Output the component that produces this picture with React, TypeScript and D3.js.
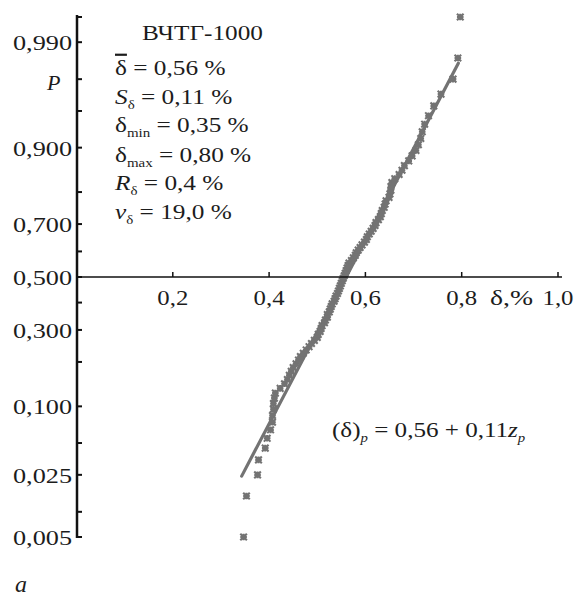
import React from "react";
import * as d3 from "d3";

// Sorted sample values δ, % (n = 100)
const deltaValues = [
  0.347, 0.353, 0.376, 0.378, 0.392, 0.396, 0.403, 0.407, 0.407, 0.409,
  0.409, 0.411, 0.413, 0.423, 0.432, 0.438, 0.442, 0.446, 0.45, 0.456,
  0.461, 0.465, 0.471, 0.477, 0.483, 0.488, 0.494, 0.5, 0.502, 0.506,
  0.508, 0.51, 0.515, 0.517, 0.521, 0.521, 0.525, 0.527, 0.529, 0.531,
  0.535, 0.537, 0.539, 0.542, 0.544, 0.546, 0.548, 0.55, 0.552, 0.554,
  0.556, 0.558, 0.56, 0.562, 0.564, 0.566, 0.571, 0.575, 0.579, 0.581,
  0.585, 0.589, 0.593, 0.598, 0.602, 0.604, 0.608, 0.612, 0.616, 0.62,
  0.622, 0.627, 0.631, 0.633, 0.635, 0.639, 0.641, 0.643, 0.649, 0.651,
  0.653, 0.653, 0.655, 0.661, 0.67, 0.676, 0.681, 0.69, 0.697, 0.705,
  0.71, 0.715, 0.718, 0.723, 0.731, 0.742, 0.757, 0.782, 0.792, 0.797,
];

const yMajorTicks = [0.005, 0.025, 0.1, 0.3, 0.5, 0.7, 0.9, 0.99];
const yMajorLabels = ["0,005", "0,025", "0,100", "0,300", "0,500", "0,700", "0,900", "0,990"];
const yMinorTicks = [0.01, 0.05, 0.2, 0.4, 0.6, 0.8, 0.95, 0.975, 0.995];
const xTicks = [0.2, 0.4, 0.6, 0.8, 1.0];
const xTickLabels = ["0,2", "0,4", "0,6", "0,8", "1,0"];
const fitMean = 0.56;
const fitSd = 0.11;
const fitDeltaRange = [0.343, 0.793];
const pRange = [0.005, 0.995];

function probit(p: number): number {
  const a = [-3.969683028665376e1, 2.209460984245205e2, -2.759285104469687e2, 1.38357751867269e2, -3.066479806614716e1, 2.506628277459239];
  const b = [-5.447609879822406e1, 1.615858368580409e2, -1.556989798598866e2, 6.680131188771972e1, -1.328068155288572e1];
  const c = [-7.784894002430293e-3, -3.223964580411365e-1, -2.400758277161838, -2.549732539343734, 4.374664141464968, 2.938163982698783];
  const d = [7.784695709041462e-3, 3.224671290700398e-1, 2.445134137142996, 3.754408661907416];
  const pl = 0.02425;
  let q: number, r: number;
  if (p < pl) {
    q = Math.sqrt(-2 * Math.log(p));
    return (((((c[0] * q + c[1]) * q + c[2]) * q + c[3]) * q + c[4]) * q + c[5]) / ((((d[0] * q + d[1]) * q + d[2]) * q + d[3]) * q + 1);
  }
  if (p <= 1 - pl) {
    q = p - 0.5;
    r = q * q;
    return ((((((a[0] * r + a[1]) * r + a[2]) * r + a[3]) * r + a[4]) * r + a[5]) * q) / (((((b[0] * r + b[1]) * r + b[2]) * r + b[3]) * r + b[4]) * r + 1);
  }
  q = Math.sqrt(-2 * Math.log(1 - p));
  return -(((((c[0] * q + c[1]) * q + c[2]) * q + c[3]) * q + c[4]) * q + c[5]) / ((((d[0] * q + d[1]) * q + d[2]) * q + d[3]) * q + 1);
}

const W = 577;
const H = 599;
const AX = 77;
const FONT = "'Liberation Serif', 'Times New Roman', serif";
const GRAY = "#737373";
const INK = "#1c1c1c";

export default function App() {
  const x = d3.scaleLinear().domain([0, 1]).range([76.5, 558]);
  const zScale = d3.scaleLinear().domain([probit(pRange[0]), probit(pRange[1])]).range([537, 17]);
  const y = (p: number) => zScale(probit(p));
  const y0 = y(0.5);
  const n = deltaValues.length;
  const pts = deltaValues.map((v, i) => ({ v, p: (i + 0.5) / n }));

  const fitLine = d3
    .line<number>()
    .x((v) => x(v))
    .y((v) => zScale((v - fitMean) / fitSd));

  const s = 3.3;
  const marker = `M${-s},${-s}L${s},${s}M${-s},${s}L${s},${-s}M0,${-s}L0,${s}M${-s},0L${s},0`;

  const annoX = 115;
  const sx = 1.15;

  return (
    <svg width={W} height={H} style={{ position: "absolute", left: 0, top: 0, background: "#fff" }} fontFamily={FONT}>
      {/* fit line */}
      <path d={fitLine(fitDeltaRange) || ""} stroke={GRAY} strokeWidth={3.2} fill="none" strokeLinecap="round" />
      {/* points */}
      {pts.map((d, i) => (
        <path key={i} d={marker} transform={`translate(${x(d.v)},${y(d.p)})`} stroke={GRAY} strokeWidth={2.1} fill="none" />
      ))}

      {/* y axis */}
      <line x1={AX} x2={AX} y1={15} y2={538} stroke="#111" strokeWidth={2.5} />
      {yMajorTicks.concat(yMinorTicks).map((p, i) => (
        <line key={i} x1={AX} x2={AX + 5} y1={y(p)} y2={y(p)} stroke="#111" strokeWidth={2} />
      ))}
      {yMajorTicks.map((p, i) => (
        <text key={i} x={72} y={y(p) + 8} fontSize={22} textAnchor="end" fill={INK} textLength={59} lengthAdjust="spacingAndGlyphs">
          {yMajorLabels[i]}
        </text>
      ))}
      <text x={47} y={90} fontSize={22} fontStyle="italic" fill={INK}>P</text>

      {/* x axis */}
      <line x1={AX} x2={562} y1={y0} y2={y0} stroke="#111" strokeWidth={1.5} />
      {xTicks.map((t, i) => (
        <g key={i}>
          <line x1={x(t)} x2={x(t)} y1={y0} y2={y0 - 5} stroke="#111" strokeWidth={1.5} />
          <text x={x(t)} y={305} fontSize={22} textAnchor="middle" fill={INK} textLength={31} lengthAdjust="spacingAndGlyphs">
            {xTickLabels[i]}
          </text>
        </g>
      ))}
      <text x={490} y={305} fontSize={22} fill={INK} textLength={43} lengthAdjust="spacingAndGlyphs">δ,%</text>

      {/* annotation block */}
      <g fill={INK} fontSize={22}>
        <text x={142} y={40} textLength={121} lengthAdjust="spacingAndGlyphs">ВЧТГ-1000</text>
        <g transform={`translate(${annoX},0) scale(${sx},1)`}>
          <text x={0} y={75}>
            <tspan textDecoration="overline">δ</tspan> = 0,56 %
          </text>
          <text x={0} y={104}>
            <tspan fontStyle="italic">S</tspan>
            <tspan fontSize={13} dy={5}>δ</tspan>
            <tspan dy={-5}> = 0,11 %</tspan>
          </text>
          <text x={0} y={132}>
            δ<tspan fontSize={13} dy={5}>min</tspan>
            <tspan dy={-5}> = 0,35 %</tspan>
          </text>
          <text x={0} y={162}>
            δ<tspan fontSize={13} dy={5}>max</tspan>
            <tspan dy={-5}> = 0,80 %</tspan>
          </text>
          <text x={0} y={190}>
            <tspan fontStyle="italic">R</tspan>
            <tspan fontSize={13} dy={5}>δ</tspan>
            <tspan dy={-5}> = 0,4 %</tspan>
          </text>
          <text x={0} y={219}>
            <tspan fontStyle="italic">v</tspan>
            <tspan fontSize={13} dy={5}>δ</tspan>
            <tspan dy={-5}> = 19,0 %</tspan>
          </text>
        </g>
        <g transform={`translate(332,0) scale(1.14,1)`}>
          <text x={0} y={437}>
            (δ)<tspan fontSize={13} fontStyle="italic" dy={5}>p</tspan>
            <tspan dy={-5}> = 0,56 + 0,11</tspan>
            <tspan fontStyle="italic">z</tspan>
            <tspan fontSize={13} fontStyle="italic" dy={5}>p</tspan>
          </text>
        </g>
      </g>
      <text x={15} y={592} fontSize={24} fontStyle="italic" fill={INK}>a</text>
    </svg>
  );
}
